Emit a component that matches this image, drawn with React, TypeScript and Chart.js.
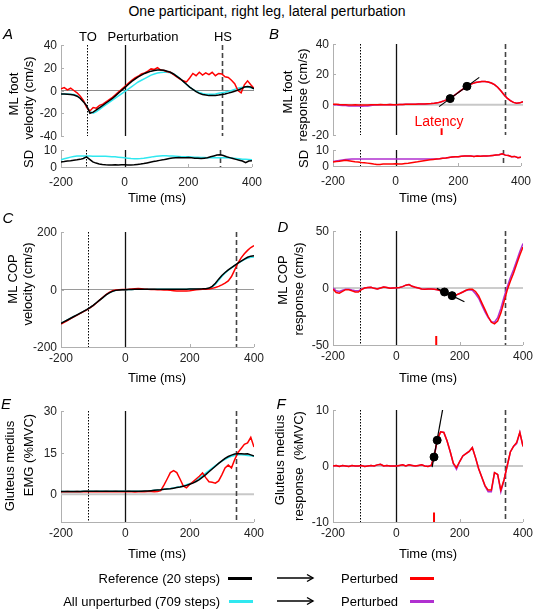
import React, { useEffect, useRef, useState } from "react";
import { Chart, registerables } from "chart.js";

Chart.register(...registerables);

const FONT = "'Liberation Sans', Arial, Helvetica, sans-serif";
const RED = "#ff0000";
const BLACK = "#000000";
const CYAN = "#30e8f0";
const MAGENTA = "#b030d0";

// ---------- data ----------
const TIME = [
  -200, -190, -180, -170, -160, -150, -140, -130, -120, -110,
  -100, -90, -80, -70, -60, -50, -40, -30, -20, -10,
  0, 10, 20, 30, 40, 50, 60, 70, 80, 90,
  100, 110, 120, 130, 140, 150, 160, 170, 180, 190,
  200, 210, 220, 230, 240, 250, 260, 270, 280, 290,
  300, 310, 320, 330, 340, 350, 360, 370, 380, 390,
  400,
];
const X_TICKS = [-200, 0, 200, 400];
const A_EVENTS = [-120, 0, 300];
const EVENTS = [-115, 0, 343];

// A: ML foot velocity (cm/s)
const A_REF = [
  -3, -3, -3.2, -3.5, -4, -5, -7, -10, -13.5, -20,
  -19, -17, -15, -13, -11, -9, -7, -4.5, -2, 0.5,
  3, 5.5, 8, 10, 12, 13.5, 15, 16, 17, 17.5,
  18, 18, 17.8, 17, 16, 14.5, 12.5, 10.5, 8, 5.5,
  3, 1, -1, -2.5, -3.5, -4, -4.5, -4.5, -4.3, -4,
  -3.5, -3, -2.3, -1.5, -0.7, 0.3, 1.5, 3, 3.5, 3,
  1.5,
];
const A_ALL = [
  -3, -3, -3, -3.2, -3.5, -4.5, -6.5, -9.5, -14, -18.5,
  -20, -18.5, -16.5, -14.5, -12.5, -10.5, -8.5, -6.5, -4.5, -2.5,
  -0.5, 1.5, 3.5, 5.5, 7.5, 9, 10.5, 12, 13.5, 14.5,
  15.3, 15.8, 16, 16, 15.5, 14.5, 12.8, 10.5, 8, 5.5,
  3, 1, -0.5, -1.8, -2.7, -3.2, -3.4, -3.3, -3, -2.5,
  -2, -1.5, -0.8, 0, 1, 2, 2.7, 3, 3, 2.5,
  1.5,
];
const A_PERT = [
  1.5, 2.5, 0.5, 2, 0, -2, -5, -9, -15, -18,
  -15, -15.5, -13, -12, -10, -8, -6, -3.5, -1, 1.5,
  4, 6.5, 9, 11, 12.5, 14.5, 15.5, 17, 19, 18.5,
  20, 18, 17.5, 16.5, 16, 14, 12, 10, 8.5, 7.5,
  11, 15, 13, 16, 13.5, 15.5, 14, 16, 13, 15,
  14.5, 12, 11.5, 9, 6, 0, -2, 5, 8.5, 5,
  2,
];
const A_SD_REF = [
  3, 3.2, 3.5, 3.7, 4, 4.2, 4.5, 5, 6, 4.5,
  3, 2.3, 1.8, 1.5, 1.3, 1.2, 1.2, 1.3, 1.2, 1.3,
  1.3, 1.2, 1.2, 1.3, 1.5, 1.7, 2, 2.4, 2.8, 3.2,
  3.5, 3.9, 4.2, 4.6, 5, 5.3, 5.5, 5.6, 5.5, 5.5,
  5.6, 5.4, 5.2, 5.1, 5, 5.2, 5.4, 6, 6.5, 7,
  7.2, 6.8, 6, 5.5, 5, 4.5, 4, 3.5, 2.5, 3.5,
  3.7,
];
const A_SD_ALL = [
  4.2, 4.8, 5.3, 5.8, 6.2, 6.4, 6.5, 6.5, 6.5, 6.4,
  6.3, 6.3, 6.3, 6.3, 6.3, 6.2, 6.1, 6, 5.8, 5.6,
  5.4, 5.2, 5, 4.9, 4.9, 5, 5.2, 5.5, 5.8, 6.1,
  6.3, 6.5, 6.6, 6.6, 6.5, 6.4, 6.3, 6.2, 6.1, 6,
  6, 5.9, 5.8, 5.7, 5.6, 5.6, 5.5, 5.5, 5.5, 5.5,
  5.5, 5.5, 5.4, 5.3, 5.2, 5, 4.8, 4.6, 4.5, 4.4,
  4.3,
];

// B: ML foot response (cm/s)
const B_PERT = [
  0.2, 0.3, 0.1, 0, -0.1, -0.2, -0.2, -0.1, -0.2, -0.3,
  -0.3, -0.2, -0.1, 0, 0, 0.1, 0, 0, 0.1, 0,
  0, 0.1, 0.1, 0.2, 0.2, 0.3, 0.3, 0.4, 0.5, 0.5,
  0.6, 0.7, 0.9, 1.2, 1.8, 2.5, 3.3, 4.3, 5.7, 7.2,
  8.7, 10.2, 11.8, 13, 13.9, 14.6, 15, 15.3, 15.3, 15,
  14.3, 13.2, 11.5, 9.2, 6.5, 4.3, 2.7, 1.5, 0.9, 1.2,
  2,
];
const B_PERT2 = [
  0, -0.1, -0.4, -0.5, -0.6, -0.8, -0.8, -0.8, -0.9, -1,
  -0.9, -0.8, -0.5, -0.3, -0.2, 0, 0, 0, 0.1, 0,
  0, 0.1, 0.1, 0.2, 0.2, 0.3, 0.3, 0.4, 0.5, 0.5,
  0.6, 0.7, 0.9, 1.2, 1.8, 2.5, 3.3, 4.3, 5.7, 7.2,
  8.7, 10.2, 11.8, 13, 13.9, 14.6, 15, 15.3, 15.3, 15,
  14.3, 13.2, 11.5, 9.2, 6.5, 4.3, 2.7, 1.5, 0.9, 1.2,
  2,
];
const B_SD_PERT = [
  2.5, 2.8, 3, 3.3, 3.6, 3.3, 3, 2.6, 2.5, 2.2,
  2, 1.8, 1.5, 1.2, 1, 0.9, 1.2, 1.3, 1.2, 1.3,
  1.4, 1.2, 1.3, 1.5, 1.7, 2, 2.3, 2.6, 3, 3.3,
  3.6, 3.9, 4.1, 4.3, 4.5, 4.8, 5, 5.3, 5.6, 5.8,
  5.8, 6.1, 6.3, 6.2, 6.3, 6, 6.2, 6.1, 6.2, 6.3,
  6.4, 6.6, 6.8, 7, 7.6, 6.8, 6.5, 5.8, 6, 5.2,
  5.4,
];
const B_SD_PERT2 = [
  2.8, 3.2, 3.5, 3.8, 4, 4.2, 4.3, 4.3, 4.3, 4.4,
  4.4, 4.3, 4.4, 4.4, 4.3, 4.4, 4.4, 4.3, 4.4, 4.4,
  4.4, 4.3, 4.4, 4.4, 4.3, 4.4, 4.4, 4.3, 4.4, 4.4,
  4.4, 4.3, 4.4, 4.4, 4.5, 4.8, 5, 5.3, 5.6, 5.8,
  5.8, 6.1, 6.3, 6.2, 6.3, 6, 6.2, 6.1, 6.2, 6.3,
  6.4, 6.6, 6.8, 7, 7.6, 6.8, 6.5, 5.8, 6, 5.2,
  5.4,
];
const B_FIT_X = [135, 262];
const B_FIT_Y = [-1.3, 18];
const B_DOT_X = [170, 223];
const B_DOT_Y = [4, 12.1];
const B_LAT_X = [143, 143];
const B_LAT_Y = [-15.5, -20];

// C: ML COP velocity (cm/s)
const C_REF = [
  -118, -112, -106, -100, -94, -88, -82, -76, -70, -63,
  -55, -46, -37, -28, -19, -12, -6.5, -3, -1.5, -1,
  -0.5, 0, 0.3, 0.5, 0.6, 0.7, 0.8, 1, 1, 1,
  1, 1, 1, 1, 1, 1, 1, 1, 1.2, 1.3,
  1.4, 1.5, 1.6, 1.8, 2.2, 3, 5, 11, 22, 36,
  49, 59, 68, 76, 84, 92, 99, 106, 112, 116,
  117,
];
const C_ALL = [
  -118, -112, -106, -100, -94, -88, -82, -76, -70, -63,
  -55, -46, -37, -28, -19, -12, -6.5, -3, -1.5, -1,
  -0.5, 0, 0.3, 0.5, 0.6, 0.7, 0.8, 1, 1, 1,
  1, 1, 1, 1, 1, 1, 1, 1, 1.2, 1.3,
  1.4, 1.5, 1.6, 1.8, 2, 2.5, 3.5, 8, 18, 32,
  45, 57, 67, 75, 83, 91, 98, 104, 109, 112,
  113,
];
const C_PERT = [
  -120, -114, -108, -101, -95, -89, -83, -77, -71, -64,
  -56, -47, -37, -27, -18, -10, -4, -1.5, -0.5, 0,
  0.3, 1, 2, 3, 3.5, 2.5, 1, 0.5, 0.3, 0,
  -0.5, -1, -1.5, -2, -3, -4, -5, -5.5, -5.5, -5,
  -4, -2.5, -1, 0, 0.5, 1, 2, 4, 7, 11,
  16, 22, 30, 45, 68, 92, 110, 124, 136, 146,
  153,
];

// D: ML COP response (cm/s)
const D_PERT = [
  -1, -4, -4.5, -3, -1.5, -1.5, -2.5, -3.5, -3.5, -1.5,
  0, 0.5, 0.6, -0.3, -0.8, 0, 0.8, 0.5, -0.2, 0,
  0.2, 0.5, 1.2, 2.5, 3, 1.5, 0.6, 0, -0.8, -1,
  -0.8, -0.8, -1, -1.5, -2.5, -3.5, -5, -6.5, -6.8, -6,
  -4.8, -3.5, -2, -1, -1, -3, -7, -13, -19, -25,
  -30, -31.5, -29, -22, -12, -2, 6, 13, 21, 29,
  36,
];
const D_PERT2 = [
  0, -2.5, -3, -2, -1, -1, -1.8, -2.5, -2.5, -1,
  0, 0.5, 0.6, -0.3, -0.8, 0, 0.8, 0.5, -0.2, 0,
  0.2, 0.5, 1.2, 2.5, 3, 1.5, 0.6, 0, -0.8, -1,
  -0.8, -0.8, -1, -1.5, -2.5, -3.5, -5, -6.5, -6.8, -6,
  -4.8, -3.5, -2.2, -1.5, -2, -5, -9, -15, -21, -26,
  -29.5, -30, -26, -18, -8, 1, 9, 16, 24, 32,
  39,
];
const D_FIT_X = [128, 215];
const D_FIT_Y = [-0.3, -12];
const D_DOT_X = [152, 176];
const D_DOT_Y = [-3.5, -6.7];
const D_LAT_X = [126, 126];
const D_LAT_Y = [-42, -50];

// E: Gluteus medius EMG (%MVC)
const E_REF = [
  1, 1, 1, 1, 1, 1, 1, 1.1, 1.1, 1.1,
  1.1, 1.1, 1.1, 1.1, 1.1, 1.1, 1.1, 1.1, 1.1, 1.1,
  1.1, 1.1, 1.1, 1.1, 1.1, 1.1, 1.2, 1.2, 1.3, 1.4,
  1.5, 1.6, 1.8, 1.9, 2, 2.2, 2.4, 2.6, 2.9, 3.2,
  3.6, 4, 4.6, 5.3, 6.2, 7.1, 8.1, 9.1, 10.1, 11.1,
  12, 12.9, 13.6, 14.1, 14.5, 14.6, 14.6, 14.5, 14.6, 14.2,
  13.8,
];
const E_ALL = [
  1, 1, 1, 1, 1, 1, 1, 1.1, 1.1, 1.1,
  1.1, 1.1, 1.1, 1.1, 1.1, 1.1, 1.1, 1.1, 1.1, 1.1,
  1.1, 1.1, 1.1, 1.1, 1.1, 1.1, 1.2, 1.2, 1.3, 1.4,
  1.5, 1.6, 1.8, 2, 2.1, 2.3, 2.5, 2.7, 3, 3.4,
  3.8, 4.3, 5, 5.8, 6.7, 7.6, 8.5, 9.4, 10.3, 11.1,
  11.9, 12.6, 13.2, 13.7, 14, 14.2, 14.2, 14.1, 14, 13.9,
  13.7,
];
const E_PERT = [
  0.9, 0.9, 1, 0.9, 0.9, 1, 0.9, 0.9, 1, 0.9,
  0.9, 1, 0.9, 0.9, 1, 0.9, 0.9, 1, 0.9, 0.9,
  0.9, 1, 0.9, 0.8, 0.9, 1, 0.9, 1, 1, 0.9,
  1, 1.3, 3.3, 5.5, 7.8, 8.5, 7.8, 5.5, 3, 2.3,
  3.5, 4.5, 5.5, 6.5, 7.7, 6, 4.5, 4.3, 4, 4.8,
  7, 9.5, 10.5, 9.5, 12.5, 15, 16.5, 18, 18.5, 20.5,
  17,
];

// F: Gluteus medius response (%MVC)
const F_PERT = [
  0, 0.1, -0.1, 0.1, 0, -0.1, 0.1, 0, 0, 0.1,
  -0.1, 0, 0.1, 0, 0.2, 0.3, 0, 0.1, 0, 0,
  0, 0.1, 0.2, 0, 0.2, 0.1, 0, 0.1, 0.2, 0,
  -0.1, 0.1, 1.8, 4.9, 6.1, 6, 4.5, 2.6, 0.5, -0.3,
  0.8, 1.8, 2.2, 2.6, 3.3, 1.5, -0.5, -2, -3.5, -4.3,
  -4.3, -1.2, -1.5, -4.3, -2.5, 0, 2.5, 3.5, 4.2, 6,
  3.5,
];
const F_PERT2 = [
  0, 0.1, -0.1, 0.1, 0, -0.1, 0.1, 0, 0, 0.1,
  -0.1, 0, 0.1, 0, 0.2, 0.3, 0, 0.1, 0, 0,
  0, 0.1, 0.2, 0, 0.2, 0.1, 0, 0.1, 0.2, 0,
  -0.1, 0.1, 1.8, 4.9, 6.1, 6, 4.5, 2.6, 0.4, -0.6,
  0.8, 1.8, 2.2, 2.6, 3.3, 1.5, -0.5, -2, -3.6, -4.6,
  -4.6, -1.2, -1.5, -4.6, -2.5, 0, 2.5, 3.5, 4, 6,
  3.5,
];
const F_FIT_X = [113, 146];
const F_FIT_Y = [-0.2, 10];
const F_DOT_X = [119, 129];
const F_DOT_Y = [1.6, 4.6];
const F_LAT_X = [119, 119];
const F_LAT_Y = [-8.3, -10];

// ---------- helpers ----------
const series = (ys: number[]) => TIME.map((t, i) => ({ x: t, y: ys[i] }));
const pairs = (xs: number[], ys: number[]) => xs.map((x, i) => ({ x, y: ys[i] }));

const lineDs = (data: any[], color: string, width = 1.5) => ({
  data,
  borderColor: color,
  backgroundColor: color,
  borderWidth: width,
  pointRadius: 0,
  fill: false,
  tension: 0,
});
const dotDs = (data: any[]) => ({
  data,
  showLine: false,
  pointRadius: 4,
  pointBackgroundColor: BLACK,
  pointBorderColor: BLACK,
  borderColor: BLACK,
});

type Spec = {
  id: string;
  l: number;
  t: number;
  r: number;
  b: number;
  padTop: number;
  padBottom: number;
  yMin: number;
  yMax: number;
  yTicks: number[];
  showX: boolean;
  xPad?: number;
  zero: boolean;
  zeroColor?: string;
  zeroWidth?: number;
  events: number[];
  datasets: any[];
};

const PANELS: Spec[] = [
  {
    id: "Asd", l: 61, t: 150, r: 254, b: 167, padTop: 7, padBottom: 24, yMin: 0, yMax: 10, yTicks: [0, 10],
    showX: true, xPad: 8, zero: false, events: A_EVENTS,
    datasets: [lineDs(series(A_SD_REF), BLACK), lineDs(series(A_SD_ALL), CYAN)],
  },
  {
    id: "Bsd", l: 333, t: 150, r: 523, b: 166, padTop: 7, padBottom: 24, yMin: 0, yMax: 10, yTicks: [0, 10],
    showX: true, xPad: 8, zero: false, events: EVENTS,
    datasets: [lineDs(series(B_SD_PERT), RED), lineDs(series(B_SD_PERT2), MAGENTA)],
  },
  {
    id: "A", l: 61, t: 45, r: 254, b: 136, padTop: 12, padBottom: 7, yMin: -40, yMax: 40, yTicks: [-40, -20, 0, 20, 40],
    showX: false, zero: true, zeroColor: "#8a8a8a", zeroWidth: 1, events: A_EVENTS,
    datasets: [lineDs(series(A_REF), BLACK), lineDs(series(A_PERT), RED), lineDs(series(A_ALL), CYAN)],
  },
  {
    id: "B", l: 333, t: 44, r: 523, b: 135, padTop: 12, padBottom: 8, yMin: -20, yMax: 40, yTicks: [-20, 0, 20, 40],
    showX: false, zero: true, zeroColor: "#c8c8c8", zeroWidth: 2, events: EVENTS,
    datasets: [
      dotDs(pairs(B_DOT_X, B_DOT_Y)),
      lineDs(pairs(B_FIT_X, B_FIT_Y), BLACK, 1.2),
      lineDs(pairs(B_LAT_X, B_LAT_Y), RED, 2),
      lineDs(series(B_PERT), RED),
      lineDs(series(B_PERT2), MAGENTA),
    ],
  },
  {
    id: "C", l: 61, t: 232, r: 254, b: 347, padTop: 12, padBottom: 24, yMin: -200, yMax: 200, yTicks: [-200, 0, 200],
    showX: true, zero: true, zeroColor: "#9a9a9a", zeroWidth: 1, events: EVENTS,
    datasets: [lineDs(series(C_REF), BLACK), lineDs(series(C_PERT), RED), lineDs(series(C_ALL), CYAN)],
  },
  {
    id: "D", l: 333, t: 231, r: 523, b: 345, padTop: 12, padBottom: 24, yMin: -50, yMax: 50, yTicks: [-50, 0, 50],
    showX: true, zero: true, zeroColor: "#9a9a9a", zeroWidth: 1, events: EVENTS,
    datasets: [
      dotDs(pairs(D_DOT_X, D_DOT_Y)),
      lineDs(pairs(D_FIT_X, D_FIT_Y), BLACK, 1.2),
      lineDs(pairs(D_LAT_X, D_LAT_Y), RED, 2),
      lineDs(series(D_PERT), RED),
      lineDs(series(D_PERT2), MAGENTA),
    ],
  },
  {
    id: "E", l: 61, t: 411, r: 254, b: 522, padTop: 12, padBottom: 24, yMin: -10, yMax: 30, yTicks: [0, 15, 30],
    showX: true, zero: true, zeroColor: "#c8c8c8", zeroWidth: 2, events: EVENTS,
    datasets: [lineDs(series(E_REF), BLACK), lineDs(series(E_PERT), RED), lineDs(series(E_ALL), CYAN)],
  },
  {
    id: "F", l: 333, t: 410, r: 523, b: 522, padTop: 12, padBottom: 24, yMin: -10, yMax: 10, yTicks: [-10, 0, 10],
    showX: true, zero: true, zeroColor: "#c8c8c8", zeroWidth: 2, events: EVENTS,
    datasets: [
      dotDs(pairs(F_DOT_X, F_DOT_Y)),
      lineDs(pairs(F_FIT_X, F_FIT_Y), BLACK, 1.2),
      lineDs(pairs(F_LAT_X, F_LAT_Y), RED, 2),
      lineDs(series(F_PERT), RED),
      lineDs(series(F_PERT2), MAGENTA),
    ],
  },
];

const PR = 16, YW = 40;
const TICK_SIZE = 12;

function makeDecor(spec: Spec) {
  return {
    id: "decor",
    beforeDatasetsDraw(chart: any) {
      const { ctx, chartArea } = chart;
      const { left, right, top, bottom } = chartArea;
      const xs = chart.scales.x;
      const ys = chart.scales.y;
      const snap = (v: number) => Math.round(v) + 0.5;
      const seg = (x1: number, y1: number, x2: number, y2: number, color: string, width: number, dash: number[] = []) => {
        ctx.beginPath();
        ctx.setLineDash(dash);
        ctx.strokeStyle = color;
        ctx.lineWidth = width;
        ctx.moveTo(x1, y1);
        ctx.lineTo(x2, y2);
        ctx.stroke();
      };
      ctx.save();
      const axisColor = "#b0b0b0";
      seg(snap(left), top, snap(left), bottom, axisColor, 1);
      spec.yTicks.forEach((v) => {
        const py = snap(ys.getPixelForValue(v));
        seg(left, py, left + 3, py, axisColor, 1);
      });
      if (spec.showX) {
        seg(left, snap(bottom), right, snap(bottom), axisColor, 1);
        X_TICKS.forEach((v) => {
          const px = snap(xs.getPixelForValue(v));
          seg(px, bottom, px, bottom - 3, axisColor, 1);
        });
      }
      if (spec.zero) {
        const py = ys.getPixelForValue(0);
        seg(left, py, right, py, spec.zeroColor || "#999", spec.zeroWidth || 1);
      }
      spec.events.forEach((ev, i) => {
        const px = snap(xs.getPixelForValue(ev));
        if (i === 0) seg(px, top, px, bottom, "#000", 1, [1.5, 1.5]);
        else if (i === 1) seg(px, top, px, bottom, "#111", 1.3);
        else seg(px, top, px, bottom, "#444", 1.6, [5, 3]);
      });
      ctx.restore();
    },
  };
}

type YLabel = { v: number; x: number; y: number };

function Panel({ spec }: { spec: Spec }) {
  const ref = useRef<HTMLCanvasElement>(null);
  const [ylabels, setYlabels] = useState<YLabel[]>([]);
  const w = spec.r - spec.l + YW + PR;
  const h = spec.b - spec.t + spec.padTop + spec.padBottom;
  const cx = spec.l - YW;
  const cy = spec.t - spec.padTop;
  useEffect(() => {
    const tickFont = { family: FONT, size: TICK_SIZE };
    const chart = new Chart(ref.current as HTMLCanvasElement, {
      type: "line",
      data: { datasets: spec.datasets },
      plugins: [makeDecor(spec)],
      options: {
        animation: false,
        responsive: false,
        maintainAspectRatio: false,
        events: [],
        layout: { padding: { left: 0, top: spec.padTop, right: PR, bottom: 0 } },
        plugins: { legend: { display: false }, tooltip: { enabled: false } },
        scales: {
          x: {
            type: "linear",
            min: -200,
            max: 400,
            display: true,
            afterFit: (s: any) => { s.height = spec.padBottom; },
            afterBuildTicks: (s: any) => { s.ticks = X_TICKS.map((v) => ({ value: v })); },
            grid: { display: false, drawTicks: false },
            border: { display: false },
            ticks: {
              display: spec.showX,
              font: tickFont,
              color: "#222",
              padding: spec.xPad ?? 4,
              maxRotation: 0,
              autoSkip: false,
            },
          },
          y: {
            type: "linear",
            min: spec.yMin,
            max: spec.yMax,
            afterFit: (s: any) => { s.width = YW; },
            afterBuildTicks: (s: any) => { s.ticks = spec.yTicks.map((v) => ({ value: v })); },
            grid: { display: false, drawTicks: false },
            border: { display: false },
            ticks: { display: false },
          },
        },
      } as any,
    });
    // y tick labels placed through the chart's own y scale
    const ys: any = chart.scales.y;
    setYlabels(spec.yTicks.map((v) => ({ v, x: chart.chartArea.left, y: ys.getPixelForValue(v) })));
    return () => chart.destroy();
  }, []);
  return (
    <>
      <canvas
        ref={ref}
        width={w}
        height={h}
        style={{ position: "absolute", left: cx, top: cy, width: w, height: h }}
      />
      {ylabels.map((lb) => (
        <div
          key={lb.v}
          style={{
            position: "absolute",
            left: cx + lb.x - 4,
            top: cy + lb.y,
            transform: "translate(-100%, -50%)",
            fontSize: TICK_SIZE,
            lineHeight: 1,
            color: "#222",
            whiteSpace: "pre",
            fontFamily: FONT,
          }}
        >
          {String(lb.v)}
        </div>
      ))}
    </>
  );
}

type TProps = {
  x: number;
  y: number;
  text: string;
  size?: number;
  color?: string;
  rot?: boolean;
  italic?: boolean;
  anchor?: "start" | "middle" | "end";
};
function Txt({ x, y, text, size = 13, color = "#000", rot = false, italic = false, anchor = "middle" }: TProps) {
  const tx = anchor === "middle" ? "-50%" : anchor === "end" ? "-100%" : "0%";
  return (
    <div
      style={{
        position: "absolute",
        left: x,
        top: y,
        transform: `translate(${tx}, -50%)${rot ? " rotate(-90deg)" : ""}`,
        fontSize: size,
        lineHeight: 1,
        color,
        fontStyle: italic ? "italic" : "normal",
        whiteSpace: "pre",
        fontFamily: FONT,
      }}
    >
      {text}
    </div>
  );
}

function Arrow({ x, y }: { x: number; y: number }) {
  return (
    <svg style={{ position: "absolute", left: x, top: y - 5 }} width={38} height={10}>
      <line x1={0} y1={5} x2={36} y2={5} stroke="#000" strokeWidth={1.4} />
      <polyline points="30,1.5 36,5 30,8.5" fill="none" stroke="#000" strokeWidth={1.4} />
    </svg>
  );
}

function LegendLine({ x, y, color }: { x: number; y: number; color: string }) {
  return <div style={{ position: "absolute", left: x, top: y - 1, width: 24, height: 2.5, background: color }} />;
}

export default function App() {
  useEffect(() => {
    document.body.style.margin = "0";
  }, []);
  return (
    <div
      style={{
        position: "absolute",
        left: 0,
        top: 0,
        width: 535,
        height: 609,
        background: "#fff",
        overflow: "hidden",
        fontFamily: FONT,
      }}
    >
      {PANELS.map((p) => (
        <Panel key={p.id} spec={p} />
      ))}

      <Txt x={267} y={11} text="One participant, right leg, lateral perturbation" size={14} />

      {/* panel letters */}
      <Txt x={8} y={33} text="A" size={15} italic />
      <Txt x={274} y={33} text="B" size={15} italic />
      <Txt x={8} y={217} text="C" size={15} italic />
      <Txt x={283} y={226} text="D" size={15} italic />
      <Txt x={6} y={403} text="E" size={15} italic />
      <Txt x={281} y={403} text="F" size={15} italic />

      {/* A annotations */}
      <Txt x={88} y={36} text="TO" />
      <Txt x={143} y={36} text="Perturbation" />
      <Txt x={223} y={36} text="HS" />
      <Txt x={439} y={121} text="Latency" color={RED} size={14} />

      {/* y-axis titles */}
      <Txt x={13} y={94} text="ML foot" rot />
      <Txt x={28} y={98} text="velocity (cm/s)" rot />
      <Txt x={28} y={159} text="SD" rot />
      <Txt x={287} y={92} text="ML foot" rot />
      <Txt x={302} y={95} text="response (cm/s)" rot />
      <Txt x={303} y={159} text="SD" rot />
      <Txt x={12} y={279} text="ML COP" rot />
      <Txt x={27} y={284} text="velocity (cm/s)" rot />
      <Txt x={282} y={280} text="ML COP" rot />
      <Txt x={298} y={289} text="response (cm/s)" rot />
      <Txt x={9} y={466} text="Gluteus medius" rot />
      <Txt x={28} y={455} text="EMG (%MVC)" rot />
      <Txt x={279} y={460} text="Gluteus medius" rot />
      <Txt x={298} y={466} text="response  (%MVC)" rot />

      {/* x-axis titles */}
      <Txt x={157} y={197} text="Time (ms)" />
      <Txt x={428} y={197} text="Time (ms)" />
      <Txt x={157} y={377} text="Time (ms)" />
      <Txt x={428} y={377} text="Time (ms)" />
      <Txt x={157} y={553} text="Time (ms)" />
      <Txt x={428} y={553} text="Time (ms)" />

      {/* legend */}
      <Txt x={220} y={578} text="Reference (20 steps)" anchor="end" />
      <LegendLine x={228} y={578} color={BLACK} />
      <Arrow x={277} y={578} />
      <Txt x={341} y={578} text="Perturbed" anchor="start" />
      <LegendLine x={410} y={578} color={RED} />

      <Txt x={220} y={601} text="All unperturbed (709 steps)" anchor="end" />
      <LegendLine x={229} y={601} color={CYAN} />
      <Arrow x={277} y={601} />
      <Txt x={341} y={601} text="Perturbed" anchor="start" />
      <LegendLine x={410} y={601} color={MAGENTA} />
    </div>
  );
}
